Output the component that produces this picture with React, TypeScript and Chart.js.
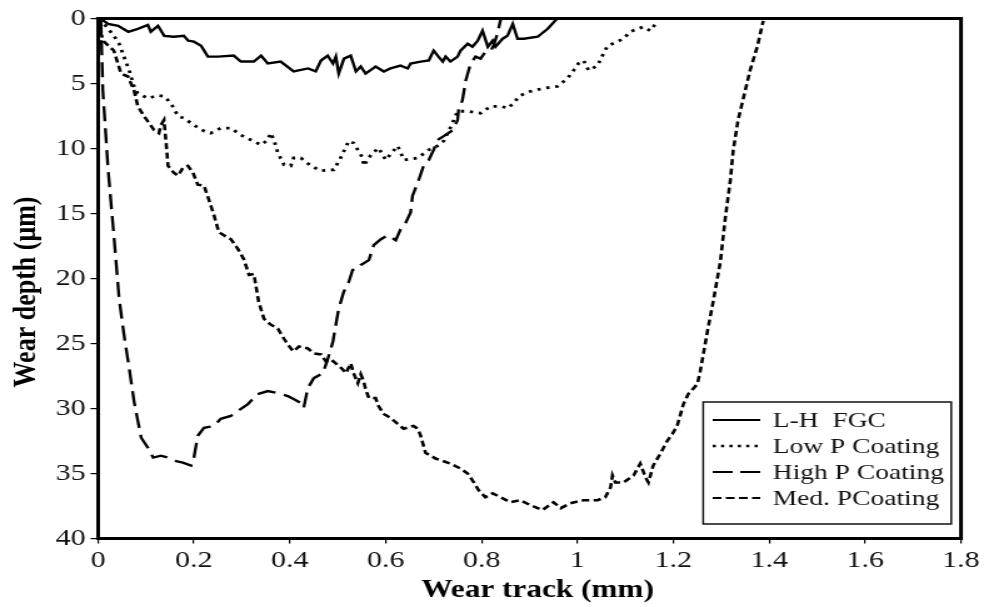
import React, { useEffect, useRef } from "react";
import { Chart, registerables } from "chart.js";

Chart.register(...registerables);

// ---------- data (x = wear track in mm, y = wear depth in µm) ----------
const seriesLabels = ["L-H  FGC", "Low P Coating", "High P Coating", "Med. PCoating"];

const lhFgc: [number, number][] = [
  [0, 0], [0.006, 0.04], [0.021, 0.42], [0.042, 0.57], [0.063, 1.03], [0.083, 0.8], [0.104, 0.5],
  [0.11, 1.03], [0.125, 0.57], [0.138, 1.34], [0.158, 1.41], [0.179, 1.34], [0.188, 1.72], [0.2, 1.79],
  [0.215, 2.1], [0.229, 2.94], [0.25, 2.94], [0.283, 2.86], [0.298, 3.32], [0.325, 3.32], [0.34, 2.86],
  [0.354, 3.47], [0.381, 3.32], [0.408, 4.08], [0.438, 3.85], [0.454, 4.08], [0.465, 3.24], [0.479, 2.86],
  [0.49, 3.47], [0.496, 2.94], [0.502, 4.24], [0.513, 3.09], [0.527, 2.86], [0.538, 4.08], [0.548, 3.7],
  [0.558, 4.24], [0.579, 3.7], [0.596, 4.08], [0.61, 3.85], [0.631, 3.63], [0.646, 3.85], [0.652, 3.47],
  [0.673, 3.32], [0.69, 3.24], [0.7, 2.48], [0.71, 2.94], [0.719, 3.32], [0.725, 2.94], [0.735, 3.32],
  [0.75, 2.94], [0.756, 2.48], [0.771, 1.95], [0.781, 2.18], [0.792, 1.72], [0.802, 0.95], [0.813, 2.18],
  [0.823, 1.72], [0.829, 2.18], [0.844, 1.56], [0.854, 1.34], [0.865, 0.42], [0.875, 1.56], [0.888, 1.56],
  [0.917, 1.41], [0.938, 0.8], [0.958, 0],
];

const lowP: [number, number][] = [
  [0, 0.1], [0.0125, 0.42], [0.033, 1.34], [0.044, 1.95], [0.054, 2.94], [0.065, 4.0], [0.075, 5.23],
  [0.083, 5.76], [0.104, 6.15], [0.125, 5.92], [0.138, 5.99], [0.152, 6.53], [0.167, 7.52], [0.179, 7.67],
  [0.2, 8.21], [0.221, 8.66], [0.235, 8.82], [0.256, 8.44], [0.277, 8.44], [0.298, 8.97], [0.319, 9.35],
  [0.34, 9.73], [0.354, 9.35], [0.36, 8.82], [0.367, 9.35], [0.375, 10.34], [0.388, 11.26], [0.402, 11.34],
  [0.408, 10.73], [0.423, 10.73], [0.444, 11.34], [0.465, 11.72], [0.492, 11.64], [0.506, 10.73],
  [0.523, 9.43], [0.533, 9.58], [0.552, 10.73], [0.554, 11.34], [0.569, 10.5], [0.585, 9.96], [0.6, 10.88],
  [0.625, 9.81], [0.638, 10.88], [0.667, 10.73], [0.69, 10.11], [0.708, 9.81], [0.721, 9.43], [0.735, 8.4],
  [0.75, 7.14], [0.771, 7.14], [0.798, 7.29], [0.819, 6.76], [0.84, 6.76], [0.856, 6.91], [0.881, 5.92],
  [0.902, 5.61], [0.929, 5.38], [0.958, 5.23], [0.971, 4.85], [0.979, 4.62], [0.992, 4.0], [1.002, 3.47],
  [1.013, 3.24], [1.023, 4.0], [1.042, 3.63], [1.054, 2.71], [1.063, 2.1], [1.083, 1.79], [1.096, 1.56],
  [1.11, 1.03], [1.125, 0.8], [1.138, 0.65], [1.152, 0.95], [1.163, 0.42],
];

const highP: [number, number][] = [
  [0.004, 0], [0.006, 0.19], [0.01, 5.53], [0.021, 11.64], [0.033, 16.68], [0.044, 21.56], [0.054, 24.31],
  [0.065, 26.91], [0.075, 29.43], [0.083, 30.95], [0.09, 32.25], [0.104, 33.02], [0.115, 33.78],
  [0.131, 33.63], [0.146, 33.78], [0.158, 34.01], [0.177, 34.16], [0.194, 34.39], [0.2, 33.78],
  [0.208, 32.1], [0.221, 31.49], [0.242, 31.34], [0.256, 30.8], [0.277, 30.57], [0.292, 30.19],
  [0.3125, 29.66], [0.333, 28.89], [0.354, 28.66], [0.375, 28.82], [0.396, 29.05], [0.408, 29.27],
  [0.423, 29.58], [0.429, 29.96], [0.4375, 28.44], [0.45, 27.67], [0.469, 27.29], [0.479, 26.22],
  [0.49, 24.85], [0.496, 23.55], [0.502, 22.33], [0.5125, 21.03], [0.523, 20.27], [0.531, 19.35],
  [0.542, 19.27], [0.548, 18.97], [0.565, 18.59], [0.575, 17.44], [0.59, 16.98], [0.604, 16.68],
  [0.621, 17.06], [0.631, 16.22], [0.642, 15.69], [0.652, 14.92], [0.656, 13.63], [0.667, 12.63],
  [0.679, 11.34], [0.69, 10.88], [0.7, 10.11], [0.708, 9.35], [0.721, 9.05], [0.74, 8.59], [0.75, 7.82],
  [0.752, 7.06], [0.76, 6.3], [0.767, 4.77], [0.777, 3.47], [0.7875, 2.94], [0.798, 3.09], [0.808, 2.56],
  [0.819, 2.48], [0.825, 2.1], [0.833, 1.18], [0.84, 0.04],
];

const medP: [number, number][] = [
  [0.002, 0.3], [0.006, 1.18], [0.0125, 1.79], [0.033, 2.48], [0.048, 4.24], [0.0625, 4.47], [0.075, 5.53],
  [0.083, 6.76], [0.096, 7.52], [0.117, 8.59], [0.127, 8.82], [0.131, 8.21], [0.1375, 7.82], [0.142, 9.58],
  [0.146, 11.34], [0.158, 11.87], [0.167, 12.1], [0.177, 11.49], [0.1875, 11.34], [0.198, 11.87],
  [0.208, 12.79], [0.221, 12.86], [0.231, 13.93], [0.242, 15.15], [0.252, 16.45], [0.2625, 16.68],
  [0.277, 16.98], [0.292, 17.75], [0.304, 18.51], [0.315, 19.73], [0.325, 19.66], [0.329, 20.5],
  [0.335, 21.79], [0.346, 23.09], [0.36, 23.55], [0.375, 23.85], [0.3875, 24.62], [0.402, 25.38],
  [0.408, 25.61], [0.419, 25.23], [0.4375, 25.38], [0.45, 25.76], [0.465, 25.84], [0.475, 26.37],
  [0.485, 26.22], [0.496, 26.53], [0.51, 26.98], [0.517, 27.29], [0.527, 26.53], [0.533, 27.29],
  [0.542, 28.05], [0.548, 27.37], [0.554, 27.9], [0.558, 28.51], [0.565, 29.2], [0.579, 29.2],
  [0.585, 29.81], [0.596, 30.42], [0.61, 30.73], [0.625, 31.18], [0.6375, 31.56], [0.658, 31.34],
  [0.667, 31.56], [0.673, 32.1], [0.683, 33.4], [0.704, 33.85], [0.735, 34.24], [0.756, 34.62],
  [0.771, 35.0], [0.781, 35.53], [0.794, 36.3], [0.808, 36.83], [0.823, 36.53], [0.84, 36.83],
  [0.86, 37.21], [0.881, 37.06], [0.902, 37.44], [0.927, 37.82], [0.95, 37.21], [0.965, 37.67],
  [0.985, 37.29], [1.0125, 37.06], [1.042, 37.06], [1.058, 36.83], [1.069, 36.07], [1.073, 35.15],
  [1.079, 35.69], [1.096, 35.69], [1.117, 35.15], [1.131, 34.24], [1.142, 35.31], [1.148, 35.69],
  [1.158, 34.39], [1.173, 33.47], [1.1875, 32.48], [1.198, 31.95], [1.208, 31.34], [1.221, 29.66],
  [1.231, 28.89], [1.25, 28.13], [1.256, 27.14], [1.2625, 25.84], [1.271, 24.08], [1.283, 21.79],
  [1.298, 18.74], [1.308, 15.46], [1.319, 12.4], [1.325, 10.11], [1.335, 7.82], [1.35, 5.53], [1.36, 4.0],
  [1.375, 2.18], [1.3875, 0.19],
];

const xAxisTitle = "Wear track (mm)";
const yAxisTitle = "Wear depth (μm)";

// ---------- layout ----------
const CANVAS_W = 787; // drawn narrower, then stretched to 984px like the reference
const CANVAS_H = 607;
const SERIF = '"Liberation Serif", "Times New Roman", Times, serif';

const styles = [
  { width: 2.4, dash: [] as number[] },
  { width: 2.8, dash: [2.6, 4.6] },
  { width: 2.4, dash: [15, 7] },
  { width: 2.6, dash: [6, 3.5] },
];
const legendDash = [[], [2.5, 4.2], [16, 6], [7, 3.5]];

const framePlugin = {
  id: "frameAndLegend",
  afterDatasetsDraw(chart: any) {
    const { ctx, chartArea } = chart;
    const { left, right, top, bottom } = chartArea;
    ctx.save();
    // top and right frame
    ctx.strokeStyle = "#000";
    ctx.lineWidth = 3;
    ctx.beginPath();
    ctx.moveTo(left - 1.5, top);
    ctx.lineTo(right, top);
    ctx.lineTo(right, bottom + 1.5);
    ctx.stroke();

    // legend box
    const bx = 562.4, by = 402, bw = 198.4, bh = 122;
    ctx.fillStyle = "#fff";
    ctx.fillRect(bx, by, bw, bh);
    ctx.lineWidth = 1.5;
    ctx.strokeStyle = "#111";
    ctx.strokeRect(bx, by, bw, bh);
    const rows = [420, 446, 472, 498];
    ctx.font = `22px ${SERIF}`;
    ctx.textBaseline = "middle";
    ctx.textAlign = "left";
    seriesLabels.forEach((label, i) => {
      ctx.setLineDash(legendDash[i]);
      ctx.lineWidth = i === 1 ? 2.6 : 2.2;
      ctx.strokeStyle = "#000";
      ctx.beginPath();
      ctx.moveTo(570, rows[i]);
      ctx.lineTo(608, rows[i]);
      ctx.stroke();
      ctx.setLineDash([]);
      ctx.fillStyle = "#111";
      ctx.fillText(label, 618, rows[i] + 1);
    });

    // axis titles
    ctx.fillStyle = "#000";
    ctx.font = `bold 25px ${SERIF}`;
    ctx.textAlign = "center";
    ctx.textBaseline = "alphabetic";
    ctx.fillText(xAxisTitle, 430, 597);
    ctx.translate(28, 292);
    ctx.rotate(-Math.PI / 2);
    ctx.font = `bold 26px ${SERIF}`;
    ctx.fillText(yAxisTitle, 0, 0);
    ctx.restore();
  },
};

export default function App() {
  const ref = useRef<HTMLCanvasElement>(null);

  useEffect(() => {
    const canvas = ref.current;
    if (!canvas) return;
    const all = [lhFgc, lowP, highP, medP];
    const chart = new Chart(canvas, {
      type: "line",
      data: {
        datasets: all.map((arr, i) => ({
          label: seriesLabels[i],
          data: arr.map(([x, y]) => ({ x, y })),
          borderColor: "#000",
          backgroundColor: "#000",
          borderWidth: styles[i].width,
          borderDash: styles[i].dash,
          pointRadius: 0,
          tension: 0,
          fill: false,
        })),
      },
      options: {
        responsive: false,
        animation: false,
        devicePixelRatio: 1,
        layout: { padding: { top: 14.5, right: 18.4, left: 0, bottom: 0 } },
        plugins: {
          legend: { display: false },
          tooltip: { enabled: false },
          title: { display: false },
        },
        scales: {
          x: {
            type: "linear",
            min: 0,
            max: 1.8,
            afterFit: (s: any) => {
              s.height = 68.5;
            },
            ticks: {
              stepSize: 0.2,
              padding: 3,
              color: "#111",
              font: { family: SERIF, size: 24 },
              maxRotation: 0,
              callback: (v: any) => String(parseFloat(Number(v).toFixed(1))),
            },
            grid: { display: true, drawOnChartArea: false, drawTicks: true, tickLength: 5, color: "#000", lineWidth: 1.2 },
            border: { display: true, color: "#000", width: 3 },
          },
          y: {
            type: "linear",
            reverse: true,
            min: 0,
            max: 40,
            afterFit: (s: any) => {
              s.width = 78.4;
            },
            ticks: {
              stepSize: 5,
              padding: 4,
              color: "#111",
              font: { family: SERIF, size: 24 },
            },
            grid: { display: true, drawOnChartArea: false, drawTicks: true, tickLength: 6, color: "#000", lineWidth: 1.2 },
            border: { display: true, color: "#000", width: 3 },
          },
        },
      },
      plugins: [framePlugin],
    } as any);
    return () => chart.destroy();
  }, []);

  return (
    <div style={{ position: "fixed", left: 0, top: 0, width: 984, height: 607, background: "#fff" }}>
      <canvas
        ref={ref}
        width={CANVAS_W}
        height={CANVAS_H}
        style={{ width: "984px", height: "607px", display: "block" }}
      />
    </div>
  );
}
